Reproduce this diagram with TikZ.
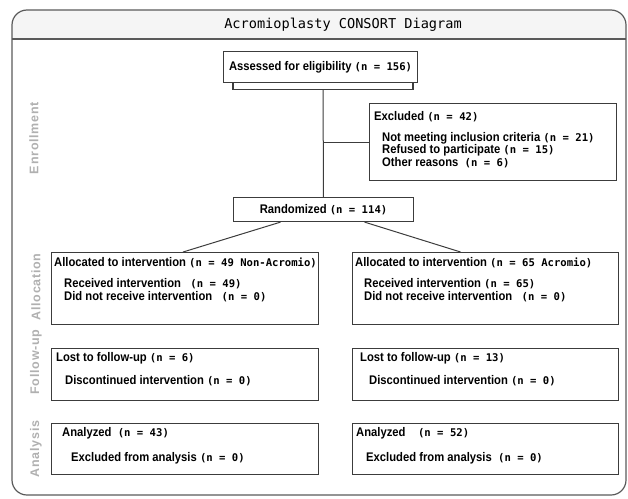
\documentclass[tikz,border=0pt]{standalone}
\usepackage{fontspec}
\setmainfont{Liberation Sans}
\newfontfamily\boxfont[FakeStretch=0.9]{Liberation Sans}
\newfontfamily\numfont{DejaVu Sans Mono}
\newfontfamily\titlefont{DejaVu Sans Mono}
\newfontfamily\sidefont[LetterSpace=6]{Liberation Sans}
\usetikzlibrary{positioning}
\usetikzlibrary{calc}
\definecolor{boxline}{HTML}{3C3C3C}
\definecolor{frameline}{HTML}{5A5A5A}
\newcommand{\nval}[1]{{\numfont\bfseries\fontsize{10.6}{12}\selectfont #1}}

\begin{document}
\begin{tikzpicture}[
    x=1pt, y=-1pt,
    box/.style={draw=boxline,line width=1.1pt,fill=white,inner sep=0pt,
      font=\boxfont\bfseries\fontsize{12.5}{14}\selectfont},
    txt/.style={anchor=base west,inner sep=0pt,
      font=\boxfont\bfseries\fontsize{12.5}{14}\selectfont},
    side/.style={rotate=90,font=\sidefont\bfseries\fontsize{12.5}{14}\selectfont,text=gray!62},
    link/.style={draw=boxline,line width=1pt}
    ]
    \useasboundingbox (0,0) rectangle (628,498);

    % frame and title band
    \begin{scope}
      \clip[rounded corners=15pt] (12,10) rectangle (626,495);
      \fill[gray!8] (12,10) rectangle (626,39);
    \end{scope}
    \draw[frameline,line width=1.2pt,rounded corners=15pt] (12,10) rectangle (626,495);
    \draw[frameline,line width=1.2pt] (12,39) -- (626,39);
    \node[font=\titlefont\fontsize{13.6}{15}\selectfont] (title) at (343,25) {Acromioplasty CONSORT Diagram};

    % stage labels
    \node[side] (enrol) at (34,138) {Enrollment};
    \node[side] (alloc) at (36,287) {Allocation};
    \node[side] (follow) at (36,362) {Follow-up};
    \node[side] (anal) at (36,449) {Analysis};

    % enrollment
    \node[box,anchor=north,minimum width=180pt,minimum height=8pt] (strip) at (323,81) {};
    \node[box,anchor=north west,minimum width=194pt,minimum height=31pt] (assess) at (223,51)
      {Assessed for eligibility \nval{(n = 156)}};
    \node[box,anchor=north west,minimum width=247pt,minimum height=77pt] (excl) at (369,103) {};
    \node[box,anchor=north west,minimum width=180pt,minimum height=24pt] (rand) at (233,197)
      {Randomized \nval{(n = 114)}};

    \node[txt] (exclhead) at ([shift={(5,17)}]excl.north west) {Excluded \nval{(n = 42)}};
    \node[txt] (excla) at ([shift={(13,38)}]excl.north west) {Not meeting inclusion criteria \nval{(n = 21)}};
    \node[txt] (exclb) at ([shift={(13,50)}]excl.north west) {Refused to participate \nval{(n = 15)}};
    \node[txt] (exclc) at ([shift={(13,63)}]excl.north west) {Other reasons \ \nval{(n = 6)}};

    % allocation
    \node[box,anchor=north west,minimum width=267pt,minimum height=72pt] (allocL) at (51,252) {};
    \node[box,anchor=north west,minimum width=266pt,minimum height=72pt] (allocR) at (352,252) {};

    \node[txt] (allocLhead) at ([shift={(3,14)}]allocL.north west) {Allocated to intervention \nval{(n = 49 Non-Acromio)}};
    \node[txt] (allocLa) at ([shift={(13,35)}]allocL.north west) {Received intervention \ \ \nval{(n = 49)}};
    \node[txt] (allocLb) at ([shift={(13,48)}]allocL.north west) {Did not receive intervention \ \ \nval{(n = 0)}};
    \node[txt] (allocRhead) at ([shift={(3,14)}]allocR.north west) {Allocated to intervention \nval{(n = 65 Acromio)}};
    \node[txt] (allocRa) at ([shift={(12,35)}]allocR.north west) {Received intervention \nval{(n = 65)}};
    \node[txt] (allocRb) at ([shift={(12,48)}]allocR.north west) {Did not receive intervention \ \ \nval{(n = 0)}};

    % follow-up
    \node[box,anchor=north west,minimum width=267pt,minimum height=52pt] (followL) at (51,348) {};
    \node[box,anchor=north west,minimum width=266pt,minimum height=52pt] (followR) at (352,348) {};

    \node[txt] (followLhead) at ([shift={(5,13)}]followL.north west) {Lost to follow-up \nval{(n = 6)}};
    \node[txt] (followLa) at ([shift={(14,36)}]followL.north west) {Discontinued intervention \nval{(n = 0)}};
    \node[txt] (followRhead) at ([shift={(8,13)}]followR.north west) {Lost to follow-up \nval{(n = 13)}};
    \node[txt] (followRa) at ([shift={(17,36)}]followR.north west) {Discontinued intervention \nval{(n = 0)}};

    % analysis
    \node[box,anchor=north west,minimum width=267pt,minimum height=51pt] (analL) at (51,423) {};
    \node[box,anchor=north west,minimum width=266pt,minimum height=51pt] (analR) at (352,423) {};

    \node[txt] (analLhead) at ([shift={(11,13)}]analL.north west) {Analyzed \ \nval{(n = 43)}};
    \node[txt] (analLa) at ([shift={(20,38)}]analL.north west) {Excluded from analysis \nval{(n = 0)}};
    \node[txt] (analRhead) at ([shift={(4,13)}]analR.north west) {Analyzed \ \ \ \nval{(n = 52)}};
    \node[txt] (analRa) at ([shift={(14,38)}]analR.north west) {Excluded from analysis \ \nval{(n = 0)}};

    % connectors
    \path[link] (strip) edge (rand);
    \draw[link] (excl.west) -- (excl.west -| strip.south);
    \draw[link] ($(rand.south)+(-43,0)$) -- ($(allocL.north)+(-2,0)$);
    \draw[link] ($(rand.south)+(41,0)$) -- ($(allocR.north)+(-25,0)$);

  \end{tikzpicture}
\end{document}
